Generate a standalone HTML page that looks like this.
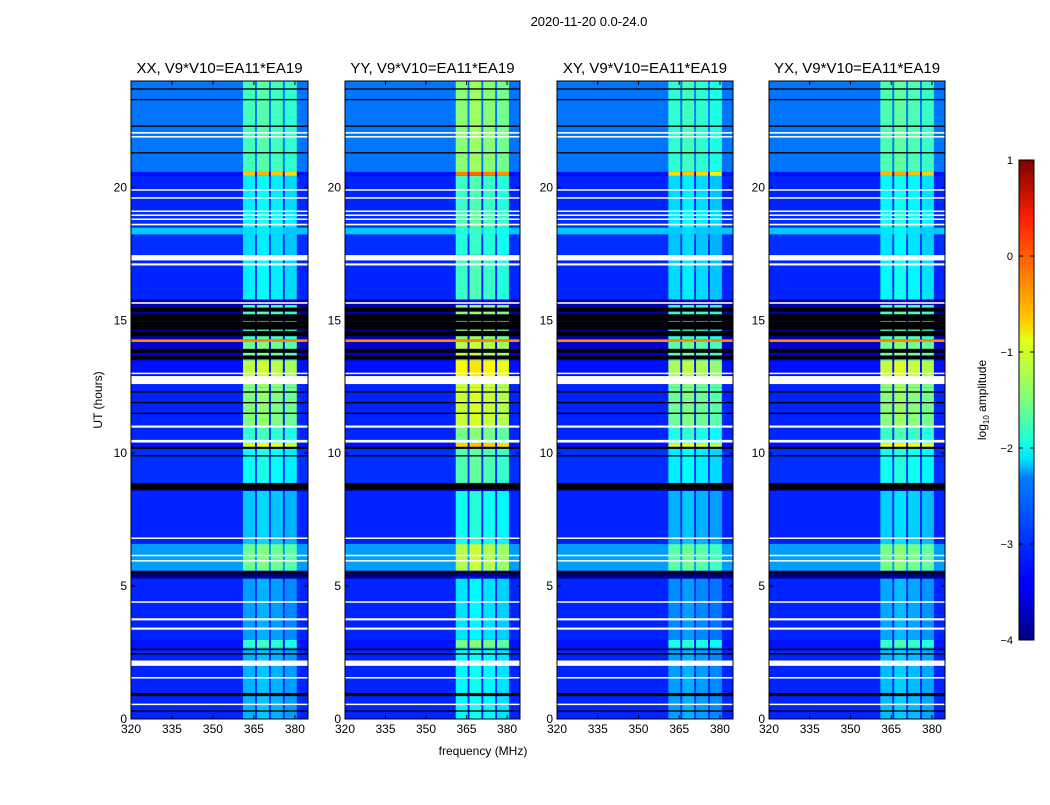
<!DOCTYPE html>
<html><head><meta charset="utf-8"><style>
body{margin:0;background:#fff;}
svg text{font-family:"Liberation Sans","DejaVu Sans",sans-serif;fill:#000;}
</style></head><body>
<svg id="fig" width="1050" height="800" xmlns="http://www.w3.org/2000/svg">
<defs>
<linearGradient id="jet" x1="0" y1="1" x2="0" y2="0">
<stop offset="0" stop-color="#00007f"/><stop offset="0.11" stop-color="#0000ff"/><stop offset="0.125" stop-color="#0000ff"/>
<stop offset="0.34" stop-color="#0080ff"/><stop offset="0.375" stop-color="#00e0ff"/><stop offset="0.41" stop-color="#16ffe1"/>
<stop offset="0.5" stop-color="#7dff7a"/><stop offset="0.625" stop-color="#e4ff13"/><stop offset="0.66" stop-color="#ffd000"/>
<stop offset="0.875" stop-color="#ff2000"/><stop offset="1" stop-color="#7f0000"/>
</linearGradient>
</defs>
<text x="589" y="26" font-size="13" text-anchor="middle">2020-11-20 0.0-24.0</text>
<text x="483" y="755" font-size="12" text-anchor="middle">frequency (MHz)</text>
<text transform="translate(102,400) rotate(-90)" font-size="12" text-anchor="middle">UT (hours)</text>
<g id="panels"></g>
<g id="cbar"></g>
</svg>
<script>
// ---- data ----
const panelNames = ["XX","YY","XY","YX"];
const panelRfiOffset = [0, 0.35, -0.1, 0.05];
const xTicks = [320,335,350,365,380];
const yTicks = [0,5,10,15,20];
const cbarTicks = [1,0,-1,-2,-3,-4];
// time segments (hours) with background and RFI log amplitude
const segStart = [0,   2.7, 3.0, 5.3, 5.6, 6.6, 8.6, 8.9, 10.2,10.4,11.0,12.5,12.9,13.5,14.2,14.3,15.6,15.8,17.5,18.25,18.5,19.2,20.45,20.6];
const segEnd   = [2.7, 3.0, 5.3, 5.6, 6.6, 8.6, 8.9, 10.2,10.4,11.0,12.5,12.9,13.5,14.2,14.3,15.6,15.8,17.5,18.25,18.5,19.2,20.45,20.6,24];
const segBg    = [-3.2,-3.3,-3.2,-3.8,-2.6,-3.2,-3.9,-3.15,-3.3,-3.2,-3.2,-3.2,-3.3,-3.6,-0.3,-3.8,-3.8,-3.2,-3.15,-2.4,-3.15,-3.2,-3.3,-2.8];
const segRfi   = [-2.5,-1.9,-2.6,-3.8,-1.6,-2.4,-3.9,-2.1,-1.0,-1.9,-1.5,-1.5,-1.2,-1.6,-0.3,-1.8,-3.8,-2.2,-2.3,-2.3,-2.1,-2.2,-0.6,-1.8];
// RFI channels (MHz) and relative strength
const chanLo = [361.0,366.1,371.2,376.3];
const chanHi = [365.4,370.5,375.6,380.7];
const chanGain = [0.0,0.1,0.0,-0.1];
// flagged (white) and dead (black) rows, hours, thickness
const whiteAt = [0.55,1.55,2.1,3.4,3.75,4.4,5.95,6.15,6.8,10.45,11.0,12.75,13.0,15.65,17.1,17.35,18.6,18.8,18.95,19.1,19.6,19.9,21.9,22.05];
const whiteW  = [0.05,0.05,0.2,0.08,0.08,0.05,0.05,0.05,0.05,0.1,0.08,0.3,0.05,0.06,0.08,0.2,0.06,0.05,0.05,0.05,0.05,0.05,0.05,0.05];
const blackAt = [0.3,0.92,2.45,2.62,5.4,5.5,8.75,9.9,10.2,11.5,11.9,12.3,13.6,13.85,14.5,14.8,15.1,15.4,21.3,22.3,23.3,23.7];
const blackW  = [0.05,0.12,0.06,0.06,0.06,0.05,0.2,0.05,0.08,0.05,0.05,0.05,0.15,0.15,0.2,0.3,0.25,0.15,0.05,0.05,0.05,0.05];

const panelLeft = [131,345,557,769];
const panelW = [177,175,176,176];
const plotTop = 81, plotBottom = 719;
const fMin = 320, fMax = 384.8, tMax = 24;
const NS = "http://www.w3.org/2000/svg";

function jet(v){
  let t = (v+4)/5; t=Math.max(0,Math.min(1,t));
  const c=x=>Math.round(255*Math.max(0,Math.min(1,x)));
  const r=c(1.5-Math.abs(4*t-3)), g=c(1.5-Math.abs(4*t-2)), b=c(1.5-Math.abs(4*t-1));
  return `rgb(${r},${g},${b})`;
}
function yS(h){return plotBottom-(h/tMax)*(plotBottom-plotTop);}
function mk(tag,attrs,parent){const e=document.createElementNS(NS,tag);for(const k in attrs)e.setAttribute(k,attrs[k]);parent.appendChild(e);return e;}

const panels=document.getElementById('panels');
panelNames.forEach((nm,p)=>{
  const L=panelLeft[p], W=panelW[p];
  const xS=f=>L+(f-fMin)/(fMax-fMin)*W;
  const g=mk('g',{},panels);
  
  
  for(let i=0;i<segStart.length;i++){
    const y1=yS(segEnd[i]), y2=yS(segStart[i]);
    const r=mk('rect',{x:L,y:y1,width:W,height:y2-y1+0.5,fill:jet(segBg[i])},g);
    
    
    for(let c=0;c<chanLo.length;c++){
      const v=segBg[i]>-0.5?segBg[i]:Math.max(segBg[i],segRfi[i]+panelRfiOffset[p]+chanGain[c]);
      const rc=mk('rect',{x:xS(chanLo[c]),y:y1,width:xS(chanHi[c])-xS(chanLo[c]),height:y2-y1+0.5,fill:jet(v)},g);
      
      
    }
  }
  for(let i=0;i<blackAt.length;i++){
    const h=Math.max(1,blackW[i]/tMax*(plotBottom-plotTop));
    const r=mk('rect',{x:L,y:yS(blackAt[i])-h/2,width:W,height:h,fill:'#000'},g);
    
    
  }
  for(let i=0;i<whiteAt.length;i++){
    const h=Math.max(1.5,whiteW[i]/tMax*(plotBottom-plotTop));
    const r=mk('rect',{x:L,y:yS(whiteAt[i])-h/2,width:W,height:h,fill:'#fff'},g);
    
    
  }
  const fr=mk('rect',{x:L,y:plotTop,width:W,height:plotBottom-plotTop,fill:'none',stroke:'#000','stroke-width':1},g);
  
  
  const tt=mk('text',{x:L+W/2,y:73,'font-size':15,'text-anchor':'middle'},g);
  tt.textContent=nm+', V9*V10=EA11*EA19';
  
  
  xTicks.forEach(f=>{
    const x=xS(f);
    mk('line',{x1:x,x2:x,y1:plotBottom,y2:plotBottom-4,stroke:'#000'},g);
    mk('line',{x1:x,x2:x,y1:plotTop,y2:plotTop+4,stroke:'#000'},g);
    const t=mk('text',{x:x,y:plotBottom+14,'font-size':12,'text-anchor':'middle'},g);
    t.textContent=f;
    
    
  });
  yTicks.forEach(h=>{
    const y=yS(h);
    mk('line',{x1:L,x2:L+4,y1:y,y2:y,stroke:'#000'},g);
    mk('line',{x1:L+W,x2:L+W-4,y1:y,y2:y,stroke:'#000'},g);
    const t=mk('text',{x:L-4,y:y+4,'font-size':12,'text-anchor':'end'},g);
    t.textContent=h;
    
    
  });
});

// colorbar
const cb=document.getElementById('cbar');
const cbT=160, cbB=640, cbL=1019, cbW=15;
const cbr=mk('rect',{x:cbL,y:cbT,width:cbW,height:cbB-cbT,fill:'url(#jet)',stroke:'#000'},cb);


cbarTicks.forEach(v=>{
  const y=cbB-(v+4)/5*(cbB-cbT);
  mk('line',{x1:cbL,x2:cbL+4,y1:y,y2:y,stroke:'#000'},cb);
  mk('line',{x1:cbL+cbW,x2:cbL+cbW-4,y1:y,y2:y,stroke:'#000'},cb);
  const t=mk('text',{x:cbL-6,y:y+4,'font-size':11,'text-anchor':'end'},cb);
  t.textContent=v<0?'\u2212'+(-v):String(v);
  
  
});
const cl=mk('text',{transform:'translate(986,400) rotate(-90)','font-size':12,'text-anchor':'middle'},cb);
cl.innerHTML='log<tspan font-size="8" dy="3">10</tspan><tspan dy="-3"> amplitude</tspan>';


</script>
</body></html>
